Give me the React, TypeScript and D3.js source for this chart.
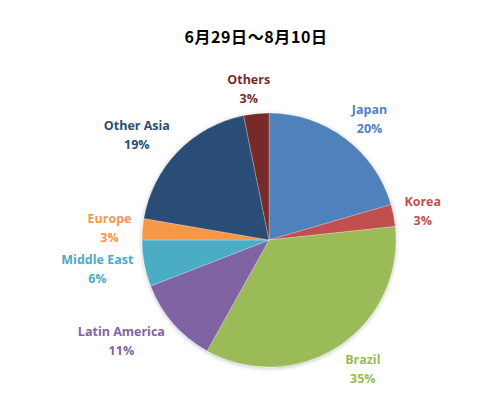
import React, { useEffect, useRef } from "react";
import * as d3 from "d3";

const title = "6月29日～8月10日";
const regions = ["Japan", "Korea", "Brazil", "Latin America", "Middle East", "Europe", "Other Asia", "Others"];
const shares = [20.5, 2.8, 34.8, 11.0, 5.9, 2.7, 19.1, 3.2];
const colors = ["#4F81BD", "#C0504D", "#9BBB59", "#8064A2", "#4BACC6", "#F79646", "#2C4D75", "#772C2A"];

const width = 501;
const height = 408;

const App: React.FC = () => {
  const svgRef = useRef<SVGSVGElement>(null);

  useEffect(() => {
    if (!svgRef.current) return;
    const svg = d3.select(svgRef.current).html("");
    const cx = 269;
    const cy = 240;
    const r = 127;
    const font = "'Open Sans', 'Liberation Sans', sans-serif";

    // drop shadow like the spreadsheet pie
    const defs = svg.append("defs");
    defs
      .append("filter")
      .attr("id", "shadow")
      .attr("x", "-10%")
      .attr("y", "-10%")
      .attr("width", "120%")
      .attr("height", "120%")
      .append("feDropShadow")
      .attr("dx", 0)
      .attr("dy", 1)
      .attr("stdDeviation", 2)
      .attr("flood-color", "#000")
      .attr("flood-opacity", 0.25);

    svg
      .append("text")
      .attr("x", 256)
      .attr("y", 43)
      .attr("text-anchor", "middle")
      .attr("font-family", "'Noto Sans CJK JP', sans-serif")
      .attr("font-weight", "bold")
      .attr("font-size", 16)
      .attr("letter-spacing", 0.6)
      .attr("fill", "#000")
      .text(title);

    const data = regions.map((name, i) => ({ name, value: shares[i], color: colors[i] }));
    const pie = d3.pie<typeof data[0]>().sort(null).value((d) => d.value);
    const arcs = pie(data);
    const arc = d3.arc<d3.PieArcDatum<typeof data[0]>>().innerRadius(0).outerRadius(r);

    const g = svg.append("g").attr("transform", `translate(${cx},${cy})`);
    const slices = g.append("g").attr("filter", "url(#shadow)");
    slices
      .selectAll("path")
      .data(arcs)
      .join("path")
      .attr("d", arc)
      .attr("fill", (d) => d.data.color)
      .attr("stroke", "rgba(255,255,255,0.4)")
      .attr("stroke-width", 0.6);

    // labels outside: anchor on a ring, then push the box outward
    const total = d3.sum(shares);
    const ring = r + 11;
    const hh = 15;
    arcs.forEach((a) => {
      const mid = (a.startAngle + a.endAngle) / 2;
      const s = Math.sin(mid);
      const c = Math.cos(mid);
      const lbl = g.append("g");
      const t1 = lbl
        .append("text")
        .attr("text-anchor", "middle")
        .attr("font-family", font)
        .attr("font-weight", "bold")
        .attr("font-size", 12.5)
        .attr("fill", a.data.color)
        .attr("y", -4)
        .text(a.data.name);
      lbl
        .append("text")
        .attr("text-anchor", "middle")
        .attr("font-family", font)
        .attr("font-weight", "bold")
        .attr("font-size", 12.5)
        .attr("fill", a.data.color)
        .attr("y", 15)
        .text(`${Math.round((a.data.value / total) * 100)}%`);
      const hw = (t1.node() as SVGTextElement).getComputedTextLength() / 2;
      const k = Math.max(-1, Math.min(1, s * 3));
      const x = ring * s + hw * k;
      const y = -ring * c - hh * c;
      lbl.attr("transform", `translate(${x},${y})`);
    });
  }, []);

  return <svg ref={svgRef} width={width} height={height} style={{ display: "block", margin: "-8px" }} />;
};

export default App;
